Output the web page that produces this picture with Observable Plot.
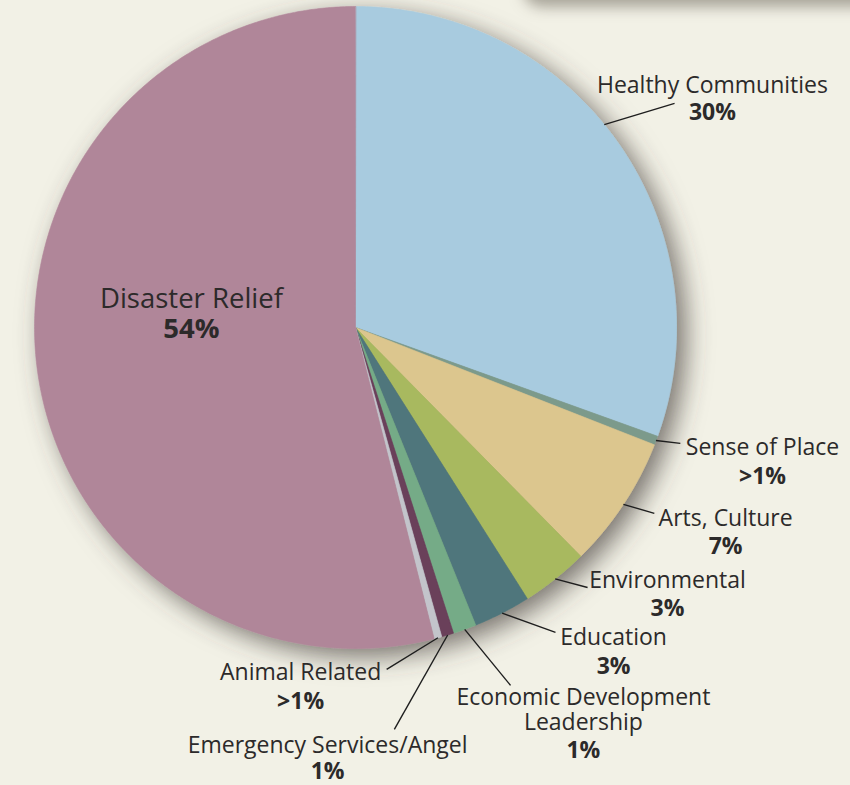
<!DOCTYPE html>
<html><head><meta charset="utf-8">
<script src="https://cdn.jsdelivr.net/npm/d3@7"></script>
<script src="https://cdn.jsdelivr.net/npm/@observablehq/plot@0.6"></script>
<style>
html,body{margin:0;padding:0;background:#f2f1e6;overflow:hidden}
#wrap{position:relative;width:850px;height:785px;overflow:hidden;background:#f2f1e6}
#panel{position:absolute;left:528px;top:-40px;width:420px;height:40px;background:#f2f1e6;box-shadow:0 2px 14px 5px rgba(95,90,78,0.5);border-radius:14px}
#chart{position:absolute;left:0;top:0}
</style></head><body>
<div id="wrap"><div id="panel"></div><div id="chart"></div></div>
<script>
// ---- data ----
const categories = ["Healthy Communities","Sense of Place","Arts, Culture","Environmental","Education","Economic Development Leadership","Emergency Services/Angel","Animal Related","Disaster Relief"];
const values = [30.5, 0.45, 6.67, 3.39, 2.88, 1.17, 0.61, 0.39, 53.94];
const shareLabels = ["30%", ">1%", "7%", "3%", "3%", "1%", "1%", ">1%", "54%"];
const nameLines = ["Healthy Communities","Sense of Place","Arts, Culture","Environmental","Education","Economic Development\nLeadership","Emergency Services/Angel","Animal Related","Disaster Relief"];

// ---- styles ----
const colors = ["#a8cbdf","#7c9a8b","#dcc68e","#a8b95f","#4f767b","#75ab87","#6a3f5a","#c3c4cb","#b08699"];

// ---- label layout (pie units: radius = 1, centre = 0,0) ----
const layout = [
  {u:1.112, v:0.732, pv:0.645, lu:0.994, lv:0.698, angle:50.8, size:23},
  {u:1.268, v:-0.396, pv:-0.489, lu:1.012, lv:-0.361, size:23},
  {u:1.153, v:-0.617, pv:-0.707, lu:0.931, lv:-0.579, size:23},
  {u:0.972, v:-0.810, pv:-0.900, lu:0.723, lv:-0.810, size:23},
  {u:0.804, v:-0.988, pv:-1.078, lu:0.623, lv:-0.950, size:23},
  {u:0.710, v:-1.255, pv:-1.340, lu:0.483, lv:-1.115, size:23},
  {u:-0.087, v:-1.324, pv:-1.408, lu:0.121, lv:-1.252, size:23},
  {u:-0.171, v:-1.097, pv:-1.187, lu:0.097, lv:-1.065, size:23},
  {u:-0.511, v:0.062, pv:-0.034, size:27.5}
];

const arcs = d3.pie().sort(null).startAngle(0).endAngle(2*Math.PI)(values);
const slicePts = arcs.flatMap((a, i) => {
  const n = Math.max(2, Math.ceil((a.endAngle - a.startAngle) / (Math.PI / 360)));
  const pts = [{name: categories[i], u: 0, v: 0}];
  for (let k = 0; k <= n; k++) {
    const t = a.startAngle + (a.endAngle - a.startAngle) * k / n;
    pts.push({name: categories[i], u: Math.sin(t), v: Math.cos(t)});
  }
  return pts;
});

const labels = categories.map((c, i) => {
  const a = arcs[i];
  const mid = layout[i].angle != null ? layout[i].angle * Math.PI / 180 : (a.startAngle + a.endAngle) / 2;
  return {name: c, text: nameLines[i], share: shareLabels[i], ...layout[i], su: Math.sin(mid), sv: Math.cos(mid)};
});
const leaders = labels.filter(d => d.lu != null);

const txt = "#2c2a2a";
const chart = Plot.plot({
  width: 850, height: 785, margin: 0,
  x: {domain: [-1, 1], range: [34, 676], axis: null},
  y: {domain: [-1, 1], range: [648, 6], axis: null},
  color: {type: "ordinal", domain: categories, range: colors},
  style: {background: "transparent", fontFamily: "'Open Sans', sans-serif", overflow: "visible"},
  marks: [
    Plot.line(slicePts, {x: "u", y: "v", z: "name", fill: "name", stroke: "name", strokeWidth: 0.6, curve: "linear-closed"}),
    Plot.link(leaders, {x1: "su", y1: "sv", x2: "lu", y2: "lv", stroke: "#1e1e1e", strokeWidth: 1.4}),
    Plot.text(labels, {x: "u", y: "v", text: "text", lineAnchor: "bottom", lineHeight: 1.09, fontSize: d => d.size, fill: txt, textAnchor: "middle", fontWeight: 400}),
    Plot.text(labels, {x: "u", y: "pv", text: "share", lineAnchor: "bottom", fontSize: d => d.size, fill: txt, textAnchor: "middle", fontWeight: 700})
  ]
});

document.getElementById("chart").appendChild(chart);
const ns = "http://www.w3.org/2000/svg";
const defs = document.createElementNS(ns, "defs");
defs.innerHTML = `<filter id="pieShadow" x="-30%" y="-30%" width="160%" height="160%">
  <feDropShadow dx="9" dy="8" stdDeviation="13" flood-color="#45413a" flood-opacity="0.7"/></filter>`;
chart.insertBefore(defs, chart.firstChild);
const pieG = chart.querySelector('g[aria-label="line"]');
if (pieG) pieG.setAttribute("filter", "url(#pieShadow)");
</script>
</body></html>
